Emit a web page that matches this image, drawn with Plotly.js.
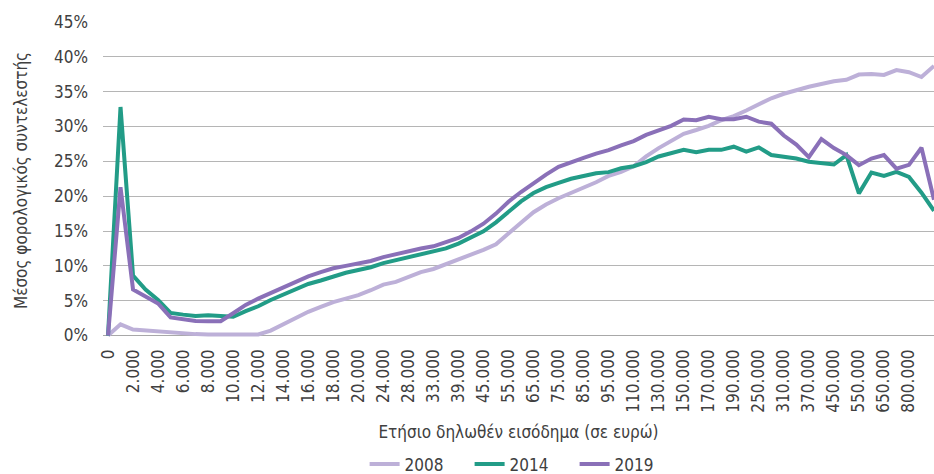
<!DOCTYPE html>
<html>
<head>
<meta charset="utf-8">
<script src="https://cdn.plot.ly/plotly-3.0.1.min.js"></script>
<style>
  html, body { margin: 0; padding: 0; background: #ffffff; }
  #chart { width: 934px; height: 474px; }
</style>
</head>
<body>
<div id="chart"></div>
<script>
// Income brackets (euro), category axis
const categories = [
  '0', '1.000', '2.000', '3.000', '4.000', '5.000', '6.000', '7.000', '8.000', '9.000',
  '10.000', '11.000', '12.000', '13.000', '14.000', '15.000', '16.000', '17.000', '18.000', '19.000',
  '20.000', '22.000', '24.000', '26.000', '28.000', '30.000', '33.000', '36.000', '39.000', '42.000',
  '45.000', '50.000', '55.000', '60.000', '65.000', '70.000', '75.000', '80.000', '85.000', '90.000',
  '95.000', '100.000', '110.000', '120.000', '130.000', '140.000', '150.000', '160.000', '170.000', '180.000',
  '190.000', '220.000', '250.000', '280.000', '310.000', '340.000', '370.000', '410.000', '450.000', '500.000',
  '550.000', '600.000', '650.000', '720.000', '800.000', '900.000', '1.000.000'
];

// Visible tick labels (every other bracket)
const tickLabels = [
  '0', '2.000', '4.000', '6.000', '8.000', '10.000', '12.000', '14.000', '16.000', '18.000',
  '20.000', '24.000', '28.000', '33.000', '39.000', '45.000', '55.000', '65.000', '75.000', '85.000',
  '95.000', '110.000', '130.000', '150.000', '170.000', '190.000', '250.000', '310.000', '370.000', '450.000',
  '550.000', '650.000', '800.000'
];

// Average tax rate (%)
const rate2008 = [
  0, 1.6, 0.85, 0.7, 0.6, 0.4, 0.25, 0.2, 0.15, 0.12, 0.1, 0.1, 0.15,
  0.7, 1.6, 2.5, 3.4, 4.1, 4.8, 5.3, 5.8, 6.5, 7.3,
  7.7, 8.4, 9.1,
  9.55, 10.2, 10.9, 11.6, 12.3, 13.1, 14.7, 16.2, 17.7, 18.8, 19.7, 20.45, 21.2, 22.0, 22.9, 23.5, 24.3, 25.7, 26.9, 28.0,
  28.95, 29.5, 30.1, 30.9, 31.5, 32.3, 33.2, 34.05, 34.7, 35.25, 35.7, 36.1, 36.5, 36.7, 37.45, 37.55, 37.4, 38.1, 37.8, 37.1, 38.7
];
const rate2014 = [
  0, 32.8, 8.6, 6.6, 5.1, 3.25, 3.0, 2.8, 2.9, 2.8, 2.7, 3.5, 4.2,
  5.1, 5.9, 6.7, 7.4, 7.9, 8.5, 9.0, 9.4, 9.8, 10.4,
  10.8, 11.2, 11.6,
  12.0, 12.5, 13.2, 14.0, 14.95, 16.25, 17.8, 19.25, 20.45, 21.3, 21.9, 22.5, 22.9, 23.3, 23.45, 24.0, 24.3, 24.9, 25.7, 26.2,
  26.65, 26.3, 26.65, 26.65, 27.1, 26.4, 27.0, 25.9, 25.7, 25.4, 24.95, 24.8, 24.55, 25.9, 20.4, 23.4, 22.9, 23.5, 22.75, 20.5, 17.9
];
const rate2019 = [
  0, 21.3, 6.6, 5.6, 4.6, 2.6, 2.4, 2.1, 2.05, 2.05, 3.2, 4.4, 5.3,
  6.1, 6.9, 7.6, 8.5, 9.1, 9.65, 10.0, 10.3, 10.7, 11.25,
  11.7, 12.1, 12.5,
  12.8, 13.4, 14.0, 14.95, 16.05, 17.5, 19.2, 20.6, 21.9, 23.1, 24.2, 24.9, 25.5, 26.1, 26.6, 27.3, 27.9, 28.8, 29.4, 30.1,
  31.0, 30.9, 31.4, 31.05, 31.05, 31.4, 30.7, 30.4, 28.7, 27.4, 25.6, 28.2, 26.9, 25.9, 24.45, 25.4, 25.9, 23.95, 24.5, 26.95, 19.5
];

const yTicks = [0, 5, 10, 15, 20, 25, 30, 35, 40, 45];

const FONT = '"Liberation Sans Narrow", "DejaVu Sans Condensed", "Roboto", sans-serif';
const TXT = '#404040';

const traces = [
  { name: '2008', y: rate2008, color: '#bdb0d8', width: 4 },
  { name: '2014', y: rate2014, color: '#229c87', width: 4 },
  { name: '2019', y: rate2019, color: '#8a70b8', width: 4 }
].map(s => ({
  type: 'scatter',
  mode: 'lines',
  name: s.name,
  x: categories,
  y: s.y,
  line: { color: s.color, width: s.width },
  hoverinfo: 'x+y+name'
}));

const layout = {
  width: 934,
  height: 474,
  margin: { l: 103, r: 0, t: 22, b: 134.5, autoexpand: false },
  paper_bgcolor: '#ffffff',
  plot_bgcolor: '#ffffff',
  font: { family: FONT, size: 16, color: TXT },
  showlegend: true,
  legend: {
    orientation: 'h',
    xref: 'container', yref: 'container',
    x: 0.559, xanchor: 'center',
    y: 0.058, yanchor: 'top',
    font: { family: FONT, size: 17, color: TXT },
    itemwidth: 30,
    entrywidth: 60,
    tracegroupgap: 0
  },
  xaxis: {
    type: 'category',
    categoryorder: 'array',
    categoryarray: categories,
    range: [-0.4, 66],
    tickmode: 'array',
    tickvals: tickLabels,
    ticktext: tickLabels,
    tickangle: -90,
    tickfont: { family: FONT, size: 17, color: TXT },
    showgrid: false,
    zeroline: false,
    showline: false,
    ticks: '',
    automargin: false,
    ticklabelstandoff: 6,
    title: { text: 'Ετήσιο δηλωθέν εισόδημα (σε ευρώ)', font: { family: FONT, size: 17, color: TXT }, standoff: 14 },
    fixedrange: true
  },
  yaxis: {
    range: [-0.5, 45],
    tickmode: 'array',
    tickvals: yTicks,
    ticktext: yTicks.map(v => v + '%'),
    tickfont: { family: FONT, size: 17, color: TXT },
    showgrid: true,
    gridcolor: '#b5b5b5',
    gridwidth: 1,
    zeroline: true,
    zerolinecolor: '#a8a8a8',
    zerolinewidth: 1.5,
    showline: false,
    ticks: '',
    automargin: false,
    ticklabelstandoff: 14,
    title: { text: 'Μέσος φορολογικός συντελεστής', font: { family: FONT, size: 17, color: TXT }, standoff: 22 },
    fixedrange: true
  }
};

Plotly.newPlot('chart', traces, layout, { displayModeBar: false, staticPlot: true });
</script>
</body>
</html>
